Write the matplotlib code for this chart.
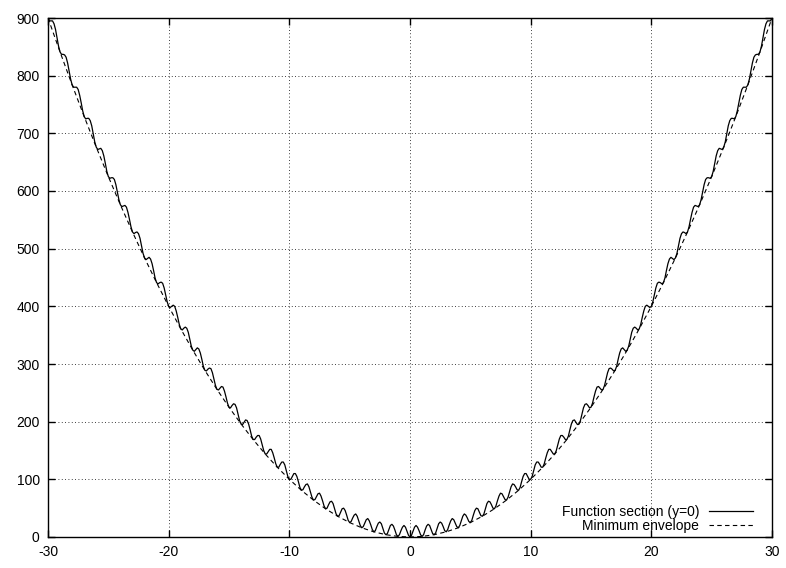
import matplotlib
matplotlib.use("Agg")
import matplotlib.pyplot as plt
import numpy as np

plt.rcParams["font.family"] = ["Liberation Sans", "DejaVu Sans"]
plt.rcParams["axes.unicode_minus"] = False

# function section (y=0), sampled every 1/8 unit from x=-30 to x=30
# (values read off the curve: troughs on integers, bumps on half-integers)
section_y = [
    900, 895, 895, 895, 890, 880, 866, 851,
    841, 837, 837, 836, 832, 822, 808, 794,
    784, 780, 780, 780, 776, 766, 753, 739,
    729, 725, 726, 726, 722, 713, 699, 685,
    676, 672, 673, 674, 670, 661, 648, 634,
    625, 622, 623, 623, 620, 611, 598, 585,
    576, 573, 574, 575, 572, 563, 551, 538,
    529, 526, 528, 529, 526, 518, 505, 492,
    484, 481, 483, 485, 482, 474, 462, 449,
    441, 439, 441, 442, 440, 432, 420, 408,
    400, 398, 400, 402, 400, 392, 381, 369,
    361, 359, 362, 364, 362, 355, 343, 331,
    324, 322, 325, 328, 326, 319, 308, 296,
    289, 288, 291, 293, 292, 285, 274, 263,
    256, 255, 258, 261, 260, 253, 243, 232,
    225, 224, 228, 231, 230, 224, 213, 202,
    196, 195, 199, 203, 202, 196, 186, 175,
    169, 169, 173, 176, 176, 170, 160, 150,
    144, 144, 148, 152, 152, 146, 137, 127,
    121, 121, 126, 130, 130, 125, 115, 105,
    100, 100, 105, 110, 110, 105, 96, 86,
    81, 82, 87, 91, 92, 87, 78, 69,
    64, 65, 70, 75, 76, 71, 63, 54,
    49, 50, 56, 61, 62, 58, 49, 40,
    36, 37, 43, 49, 50, 46, 38, 29,
    25, 27, 33, 38, 40, 36, 28, 20,
    16, 18, 24, 30, 32, 28, 21, 13,
    9, 11, 18, 24, 26, 23, 15, 7,
    4, 6, 13, 20, 22, 19, 12, 4,
    1, 4, 11, 17, 20, 17, 10, 3,
    0, 3, 10, 17, 20, 17, 11, 4,
    1, 4, 12, 19, 22, 20, 13, 6,
    4, 7, 15, 23, 26, 24, 18, 11,
    9, 13, 21, 28, 32, 30, 24, 18,
    16, 20, 28, 36, 40, 38, 33, 27,
    25, 29, 38, 46, 50, 49, 43, 37,
    36, 40, 49, 58, 62, 61, 56, 50,
    49, 54, 63, 71, 76, 75, 70, 65,
    64, 69, 78, 87, 92, 91, 87, 82,
    81, 86, 96, 105, 110, 110, 105, 100,
    100, 105, 115, 125, 130, 130, 126, 121,
    121, 127, 137, 146, 152, 152, 148, 144,
    144, 150, 160, 170, 176, 176, 173, 169,
    169, 175, 186, 196, 202, 203, 199, 195,
    196, 202, 213, 224, 230, 231, 228, 224,
    225, 232, 243, 253, 260, 261, 258, 255,
    256, 263, 274, 285, 292, 293, 291, 288,
    289, 296, 308, 319, 326, 328, 325, 322,
    324, 331, 343, 355, 362, 364, 362, 359,
    361, 369, 381, 392, 400, 402, 400, 398,
    400, 408, 420, 432, 440, 442, 441, 439,
    441, 449, 462, 474, 482, 485, 483, 481,
    484, 492, 505, 518, 526, 529, 528, 526,
    529, 538, 551, 563, 572, 575, 574, 573,
    576, 585, 598, 611, 620, 623, 623, 622,
    625, 634, 648, 661, 670, 674, 673, 672,
    676, 685, 699, 713, 722, 726, 726, 725,
    729, 739, 753, 766, 776, 780, 780, 780,
    784, 794, 808, 822, 832, 836, 837, 837,
    841, 851, 866, 880, 890, 895, 895, 895,
    900,
]
section_x = np.linspace(-30, 30, len(section_y))

# minimum envelope at the integer points
envelope_x = list(range(-30, 31))
envelope_y = [
    900, 841, 784, 729, 676, 625, 576, 529, 484, 441,
    400, 361, 324, 289, 256, 225, 196, 169, 144, 121,
    100, 81, 64, 49, 36, 25, 16, 9, 4, 1,
    0,
    1, 4, 9, 16, 25, 36, 49, 64, 81, 100,
    121, 144, 169, 196, 225, 256, 289, 324, 361, 400,
    441, 484, 529, 576, 625, 676, 729, 784, 841, 900,
]

xticks = [-30, -20, -10, 0, 10, 20, 30]
yticks = [0, 100, 200, 300, 400, 500, 600, 700, 800, 900]

fig = plt.figure(figsize=(7.86, 5.68), dpi=100)
ax = fig.add_axes([48 / 786, 1 - 537 / 568, (772 - 48) / 786, (537 - 18) / 568])

ax.plot(section_x, section_y, color="black", lw=0.9, label="Function section (y=0)")
ax.plot(envelope_x, envelope_y, color="black", lw=0.8, linestyle=(0, (4, 3)),
        label="Minimum envelope")

ax.set_xlim(-30, 30)
ax.set_ylim(0, 900)
ax.set_xticks(xticks)
ax.set_yticks(yticks)
ax.grid(True, color="black", linestyle=(0, (1, 3)), lw=0.6)
ax.tick_params(direction="in", length=5, width=1, top=True, right=True,
               labelsize=10, pad=6)
for s in ax.spines.values():
    s.set_linewidth(1.0)

ax.legend(loc="lower right", bbox_to_anchor=(0.974, 0.008), frameon=False,
          markerfirst=False, fontsize=10, handlelength=3.2, handletextpad=0.7,
          labelspacing=0.0, borderaxespad=0, borderpad=0)

fig.savefig("out.png", dpi=100)
